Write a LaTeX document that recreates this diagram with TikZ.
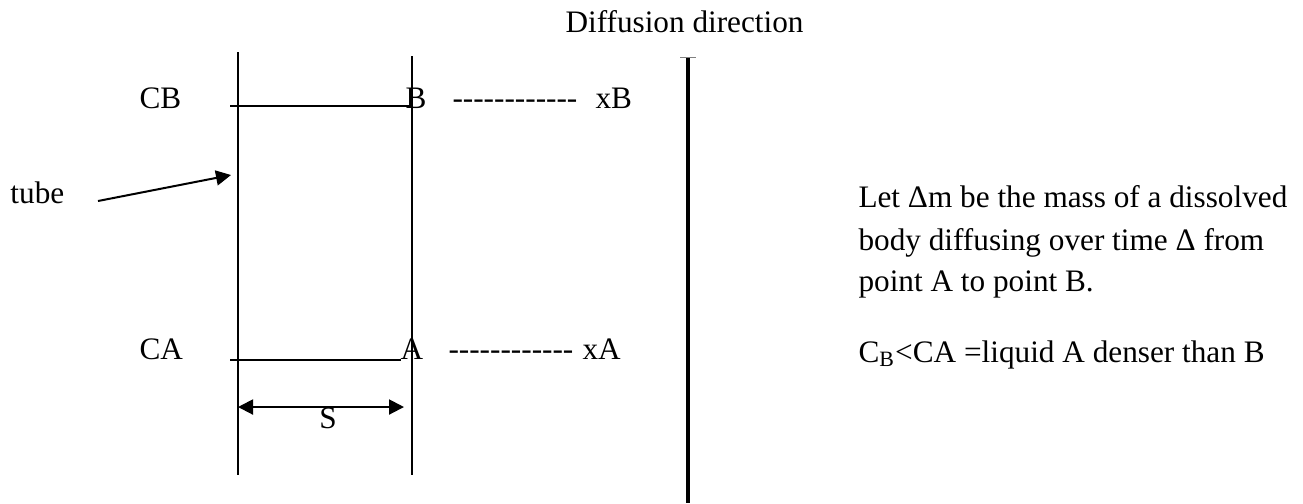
\documentclass[tikz,border=0pt]{standalone}
\usepackage{fontspec}
\setmainfont{Liberation Serif}
\usepackage{tikz}
\usetikzlibrary{arrows.meta,positioning,calc}

\newcommand\hy{\hbox{-}}
\newcommand\dashrun{\hy\hy\hy\hy\hy\hy\hy\hy\hy\hy\hy\hy}

\begin{document}
\begin{tikzpicture}[x=0.4pt, y=-0.4pt,
    lbl/.style={inner sep=0pt, font=\fontsize{12.5}{15}\selectfont},
    wall/.style={line width=0.8pt},
    pointer/.style={line width=0.8pt, -{Triangle[length=6pt, width=6pt]}},
    span/.style={line width=0.8pt, {Triangle[length=6pt, width=6pt]}-{Triangle[length=6pt, width=6pt]}}]
    \useasboundingbox (0,0) rectangle (1303,503);

    % Tube walls
    \coordinate (lt) at (238,52);
    \coordinate (lb) at (238,475);
    \coordinate (rt) at (412,56);
    \coordinate (rb) at (412,475);
    \draw[wall] (lt) -- (lb);
    \draw[wall] (rt) -- (rb);

    % Level B
    \node[lbl, anchor=base west] (cb) at (139,108) {CB};
    \node[lbl, anchor=base] (b) at (416,108) {B};
    \node[lbl, anchor=base west] (dashb) at (452,108) {\dashrun};
    \node[lbl, anchor=base west] (xb) at (595,108) {xB};
    \coordinate (bl) at (230,106);
    \draw[wall] (bl) -- (bl -| rt);

    % Level A
    \node[lbl, anchor=base west] (ca) at (139,359) {CA};
    \node[lbl, anchor=base west] (a) at (400,359) {A};
    \node[lbl, anchor=base west] (dasha) at (448,359) {\dashrun};
    \node[lbl, anchor=base west] (xa) at (582,359) {xA};
    \coordinate (al) at (230,360);
    \coordinate (ar) at (401,360);
    \draw[wall] (al) -- (ar);

    % Tube label
    \node[lbl, anchor=base west] (tube) at (10,203) {tube};
    \coordinate (tubetail) at (98,201);
    \coordinate (tubetip) at (231,175);
    \draw[pointer] (tubetail) -- (tubetip);

    % Spacing S
    \coordinate (sl) at (238,407);
    \coordinate (sr) at (404,407);
    \draw[span] (sl) -- (sr);
    \node[lbl, anchor=base] (s) at (328,428) {S};

    % Diffusion direction
    \node[lbl, anchor=base west] (dir) at (565,32) {Diffusion direction};
    \coordinate (dt) at (688,57);
    \coordinate (db) at (688,503);
    \draw[line width=1.4pt] (dt) -- (db);
    \draw[gray, line width=0.4pt] ($(dt)+(-8,0)$) -- ($(dt)+(8,0)$);

    % Explanation
    \node[lbl, anchor=base west] (t1) at (858,207) {Let Δm be the mass of a dissolved};
    \node[lbl, anchor=base west] (t2) at (858,250) {body diffusing over time Δ from};
    \node[lbl, anchor=base west] (t3) at (858,291) {point A to point B.};
    \node[lbl, anchor=base west] (t4) at (858,362) {C\textsubscript{B}<CA =liquid A denser than B};
\end{tikzpicture}
\end{document}
